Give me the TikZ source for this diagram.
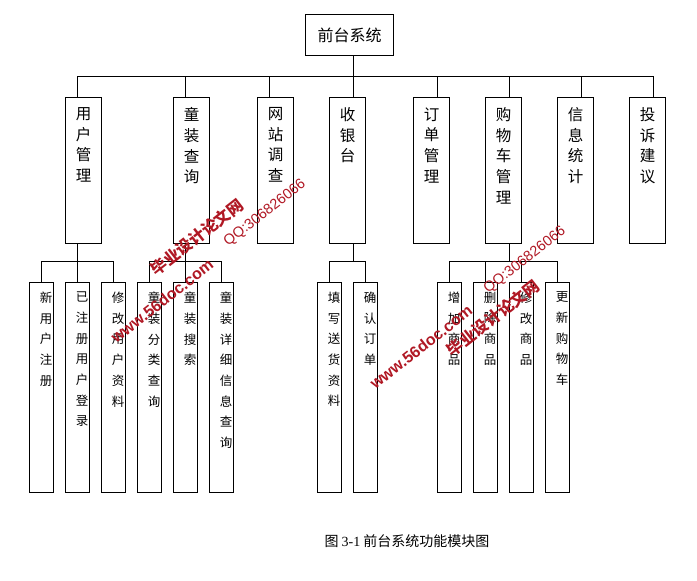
\documentclass[tikz,border=0pt]{standalone}
\usepackage{fontspec}
\setmainfont{Noto Sans CJK SC}
\newfontfamily\latinfont{Liberation Serif}
\newfontfamily\wmfont{Liberation Sans}
\usetikzlibrary{positioning}
\definecolor{wmred}{RGB}{176,24,36}
\newcommand{\bigtext}[1]{\parbox[c][146pt][t]{36pt}{\fontsize{15.5}{20.7}\selectfont\vspace*{10pt}\centering #1\par}}
\newcommand{\smalltext}[1]{\parbox[c][210pt][t]{24pt}{\fontsize{12.5}{20.7}\selectfont\vspace*{9.5pt}\centering\leftskip=9pt plus 1fil #1\par}}
\begin{document}
\begin{tikzpicture}[
  x=1pt, y=-1pt,
  bigbox/.style={rectangle, draw, line width=1pt, inner sep=0pt, outer sep=0pt, minimum width=36pt, minimum height=146pt},
  smallbox/.style={rectangle, draw, line width=1pt, inner sep=0pt, outer sep=0pt, minimum width=24pt, minimum height=210pt},
  wire/.style={line width=1pt},
  wmtext/.style={text=wmred, rotate=38, inner sep=0pt}
]
\useasboundingbox (0,0) rectangle (697,581);

\node[rectangle, draw, line width=1pt, inner sep=0pt, outer sep=0pt, minimum width=88pt, minimum height=41pt, font=\fontsize{16}{18}\selectfont] (root) at (349.5,35) {前台系统};

\node[bigbox] (user) at (83.5,170.5) {\bigtext{用\\户\\管\\理}};
\node[bigbox, right of=user, node distance=108pt] (toy) {\bigtext{童\\装\\查\\询}};
\node[bigbox, right of=toy, node distance=84pt] (survey) {\bigtext{网\\站\\调\\查}};
\node[bigbox, right of=survey, node distance=72pt] (cash) {\bigtext{收\\银\\台}};
\node[bigbox, right of=cash, node distance=84pt] (order) {\bigtext{订\\单\\管\\理}};
\node[bigbox, right of=order, node distance=72pt] (cart) {\bigtext{购\\物\\车\\管\\理}};
\node[bigbox, right of=cart, node distance=72pt] (info) {\bigtext{信\\息\\统\\计}};
\node[bigbox, right of=info, node distance=72pt] (complain) {\bigtext{投\\诉\\建\\议}};

\node[smallbox] (newuser) at (41.5,387.5) {\smalltext{新\\用\\户\\注\\册}};
\node[smallbox, right of=newuser, node distance=36pt] (login) {\smalltext{已\\注\\册\\用\\户\\登\\录}};
\node[smallbox, right of=login, node distance=36pt] (edituser) {\smalltext{修\\改\\用\\户\\资\\料}};
\node[smallbox, right of=edituser, node distance=36pt] (toytype) {\smalltext{童\\装\\分\\类\\查\\询}};
\node[smallbox, right of=toytype, node distance=36pt] (toyfind) {\smalltext{童\\装\\搜\\索}};
\node[smallbox, right of=toyfind, node distance=36pt] (toydetail) {\smalltext{童\\装\\详\\细\\信\\息\\查\\询}};

\node[smallbox] (address) at (329.5,387.5) {\smalltext{填\\写\\送\\货\\资\\料}};
\node[smallbox, right of=address, node distance=36pt] (confirm) {\smalltext{确\\认\\订\\单}};

\node[smallbox] (addgoods) at (449.5,387.5) {\smalltext{增\\加\\商\\品}};
\node[smallbox, right of=addgoods, node distance=36pt] (delgoods) {\smalltext{删\\除\\商\\品}};
\node[smallbox, right of=delgoods, node distance=36pt] (editgoods) {\smalltext{修\\改\\商\\品}};
\node[smallbox, right of=editgoods, node distance=36pt] (update) {\smalltext{更\\新\\购\\物\\车}};

\node[font=\fontsize{14}{16}\selectfont, inner sep=0pt] (caption) at (407,541) {图 {\latinfont 3-1} 前台系统功能模块图};

\coordinate (bus) at (353.5,76.5);
\coordinate (userbus) at (77.5,261.5);
\coordinate (toybus) at (185.5,261.5);
\coordinate (cashbus) at (353.5,261.5);
\coordinate (cartbus) at (509.5,261.5);

\draw[wire] (bus |- root.south) -- ([xshift=6pt]cash.north);
\draw[wire] ([xshift=-6pt]user.north) |- (bus);
\draw[wire] ([xshift=6pt]complain.north) |- (bus);
\draw[wire] ([xshift=-6pt]toy.north) -- ([xshift=-6pt]toy.north |- bus);
\draw[wire] ([xshift=-6pt]survey.north) -- ([xshift=-6pt]survey.north |- bus);
\draw[wire] ([xshift=6pt]order.north) -- ([xshift=6pt]order.north |- bus);
\draw[wire] ([xshift=6pt]cart.north) -- ([xshift=6pt]cart.north |- bus);
\draw[wire] ([xshift=6pt]info.north) -- ([xshift=6pt]info.north |- bus);

\draw[wire] ([xshift=-6pt]user.south) -- (login.north);
\draw[wire] (newuser.north) |- (userbus);
\draw[wire] (edituser.north) |- (userbus);

\draw[wire] ([xshift=-6pt]toy.south) -- (toyfind.north);
\draw[wire] (toytype.north) |- (toybus);
\draw[wire] (toydetail.north) |- (toybus);

\draw[wire] ([xshift=6pt]cash.south) -- (cashbus);
\draw[wire] (address.north) |- (cashbus);
\draw[wire] (confirm.north) |- (cashbus);

\draw[wire] ([xshift=6pt]cart.south) -- (cartbus);
\draw[wire] (addgoods.north) |- (cartbus);
\draw[wire] (update.north) |- (cartbus);
\draw[wire] (delgoods.north) -- (delgoods.north |- cartbus);
\draw[wire] (editgoods.north) -- (editgoods.north |- cartbus);

% site marks on top of the chart
\node[wmtext, font=\fontsize{16}{19}\selectfont\bfseries] (marktitle1) at (197,237) {毕业设计论文网};
\node[wmtext, font=\wmfont\fontsize{16}{19}\selectfont\bfseries] (markurl1) at (162,301) {www.56doc.com};
\node[wmtext, font=\wmfont\fontsize{14.5}{19}\selectfont] (markqq1) at (265,213) {QQ:306826066};
\node[wmtext, font=\fontsize{16}{19}\selectfont\bfseries] (marktitle2) at (493,318) {毕业设计论文网};
\node[wmtext, font=\wmfont\fontsize{16}{19}\selectfont\bfseries] (markurl2) at (421,347) {www.56doc.com};
\node[wmtext, font=\wmfont\fontsize{14.5}{19}\selectfont] (markqq2) at (525,260) {QQ:306826066};
\end{tikzpicture}
\end{document}
